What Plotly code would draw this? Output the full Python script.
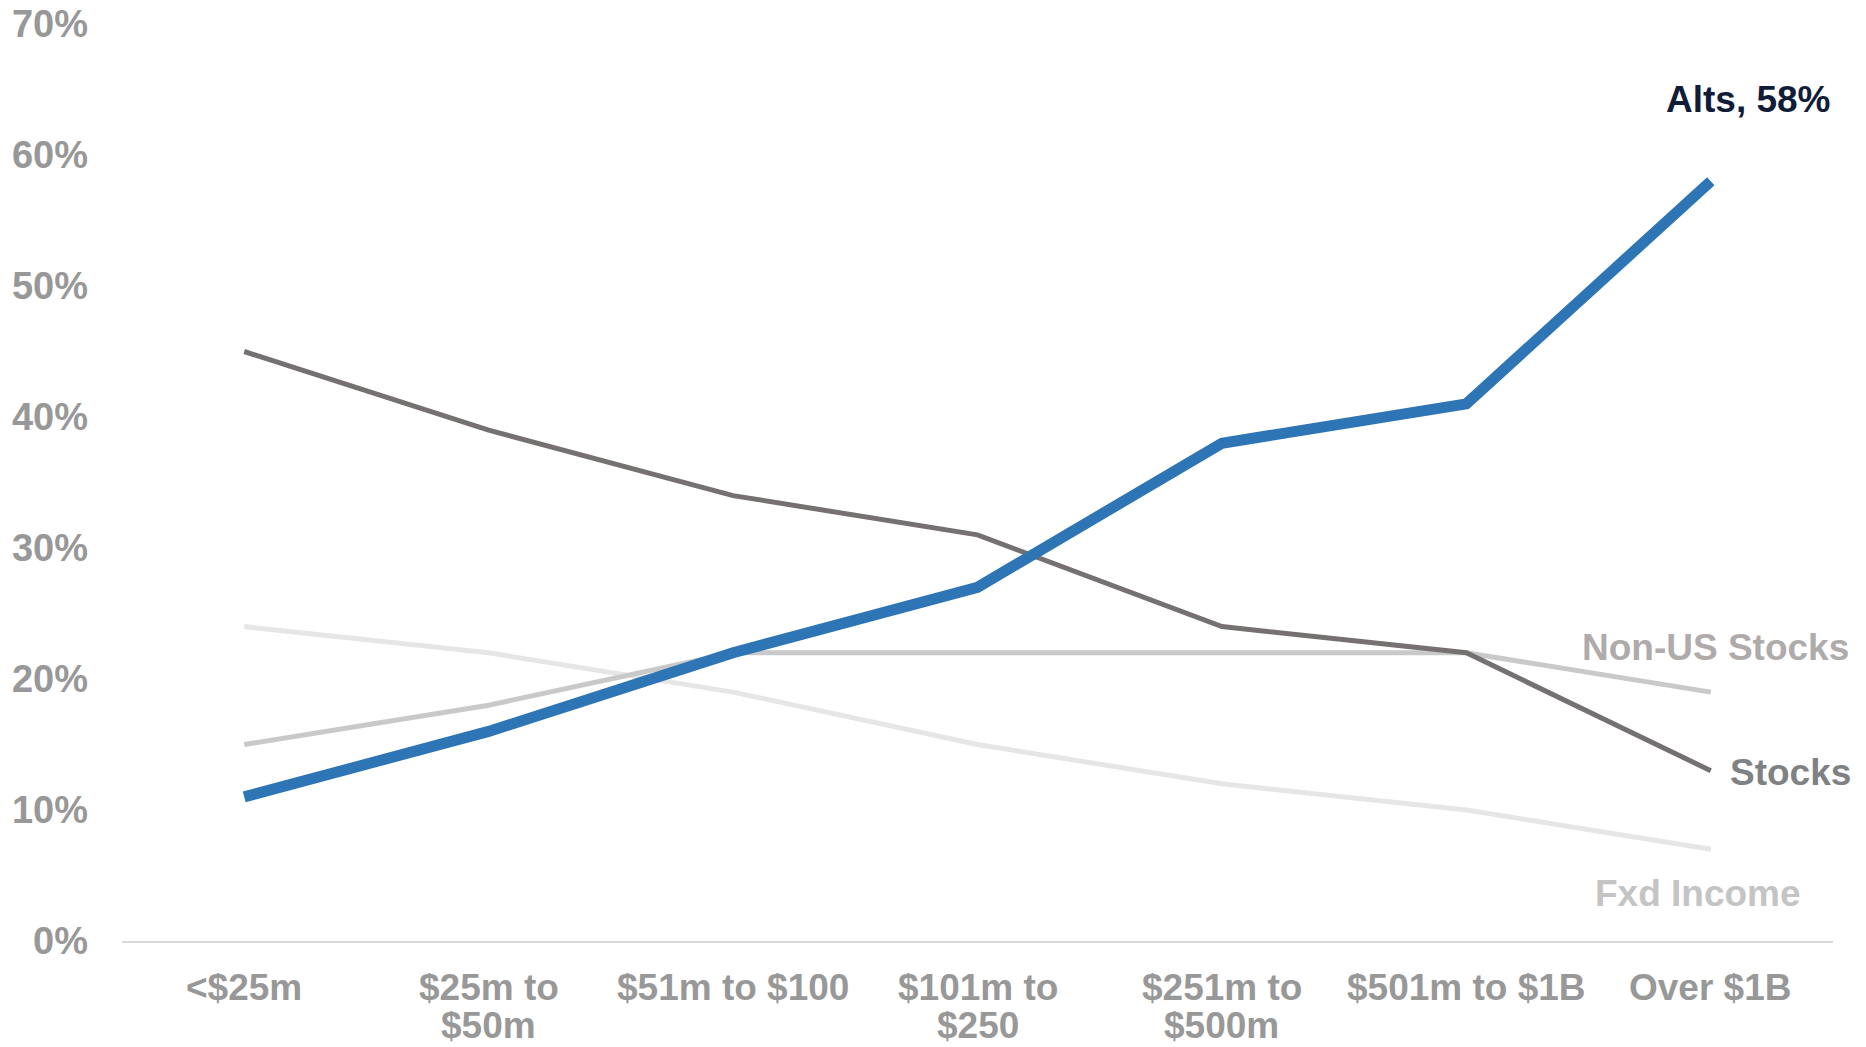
import plotly.graph_objects as go

# Asset-size buckets (x axis)
categories = [
    "<$25m",
    "$25m to $50m",
    "$51m to $100",
    "$101m to $250",
    "$251m to $500m",
    "$501m to $1B",
    "Over $1B",
]
# Tick label lines for each bucket (second line empty when it fits on one)
tick_line1 = ["<$25m", "$25m to", "$51m to $100", "$101m to", "$251m to", "$501m to $1B", "Over $1B"]
tick_line2 = ["", "$50m", "", "$250", "$500m", "", ""]

# Allocation shares by bucket, in percent
alts = [11, 16, 22, 27, 38, 41, 58]
stocks = [45, 39, 34, 31, 24, 22, 13]
non_us_stocks = [15, 18, 22, 22, 22, 22, 19]
fxd_income = [24, 22, 19, 15, 12, 10, 7]

y_ticks = [0, 10, 20, 30, 40, 50, 60, 70]
y_tick_text = [f"{v}%" for v in y_ticks]

FONT = "Liberation Sans, Arial, sans-serif"
TICK_COLOR = "#989898"

fig = go.Figure()

series = [
    ("Fxd Income", fxd_income, "#E7E6E6", 5),
    ("Non-US Stocks", non_us_stocks, "#C9C9C9", 5),
    ("Stocks", stocks, "#767171", 5),
    ("Alts", alts, "#2E75B6", 11),
]
for name, vals, color, width in series:
    fig.add_trace(go.Scatter(
        x=categories, y=vals, name=name, mode="lines",
        line=dict(color=color, width=width),
        hoverinfo="skip",
    ))

# Series labels at the right end of the lines
labels = [
    (f"Alts, {alts[-1]}%", 64.2, "#111C38", 0),
    ("Non-US Stocks", 22.4, "#AFABAB", 18),
    ("Stocks", 12.9, "#7F8182", 20),
    ("Fxd Income", 3.6, "#C4C4C4", -30),
]
for text, yv, color, xs in labels:
    fig.add_annotation(
        x=1, xref="paper", y=yv, yref="y", text=f"<b>{text}</b>",
        xanchor="right", yanchor="middle", showarrow=False, xshift=xs,
        font=dict(family=FONT, size=37, color=color),
    )

# Category labels under the axis, set with a tighter line spacing
for cat, l1, l2 in zip(categories, tick_line1, tick_line2):
    for line, shift in ((l1, -46), (l2, -84)):
        if not line:
            continue
        fig.add_annotation(
            x=cat, xref="x", y=0, yref="paper", text=f"<b>{line}</b>",
            xanchor="center", yanchor="middle", yshift=shift, showarrow=False,
            borderpad=0,
            font=dict(family=FONT, size=37, color=TICK_COLOR),
        )

fig.update_layout(
    width=1866, height=1047,
    margin=dict(l=122, r=33, t=24, b=106),
    paper_bgcolor="white", plot_bgcolor="white",
    showlegend=False,
    font=dict(family=FONT, size=37, color=TICK_COLOR),
)
fig.update_xaxes(
    type="category", range=[-0.5, 6.5], automargin=False,
    showgrid=False, zeroline=False, showticklabels=False,
    showline=True, linecolor="#D9D9D9", linewidth=2,
    ticks="",
)
fig.update_yaxes(
    range=[0, 70], tickvals=y_ticks, ticktext=y_tick_text, automargin=False,
    showgrid=False, zeroline=False, showline=False,
    ticks="", ticklabelstandoff=33,
    tickfont=dict(family=FONT, size=38, color=TICK_COLOR, weight="bold"),
)

fig.write_html("out.html")
